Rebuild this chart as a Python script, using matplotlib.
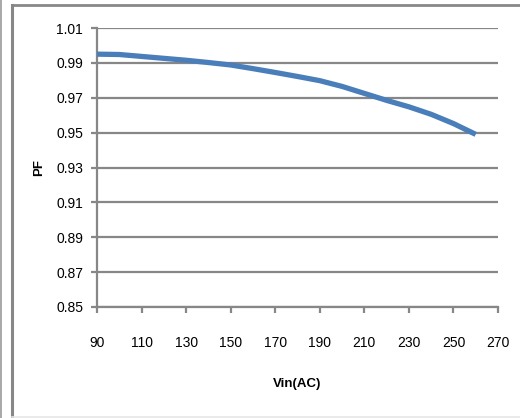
import numpy as np
import matplotlib.pyplot as plt
from matplotlib.lines import Line2D

vin = [90, 100, 110, 120, 130, 140, 150, 160, 170, 180, 190, 200, 210, 220, 230, 240, 250, 260]
pf = [0.995, 0.9948, 0.9937, 0.9926, 0.9915, 0.9902, 0.9888, 0.9867, 0.9845, 0.9822,
      0.9798, 0.9765, 0.9725, 0.9685, 0.9648, 0.9605, 0.9552, 0.949]
xticks = [90, 110, 130, 150, 170, 190, 210, 230, 250, 270]
yticks = [0.85, 0.87, 0.89, 0.91, 0.93, 0.95, 0.97, 0.99, 1.01]

plt.rcParams['font.family'] = ['Liberation Sans', 'DejaVu Sans']

W, H = 520, 418
fig = plt.figure(figsize=(W / 100, H / 100), dpi=100)
ax = fig.add_axes([97 / W, 1 - 307 / H, (498 - 97) / W, (307 - 28) / H])

grey = '#878787'
ax.plot(vin, pf, color='#4a7ebb', lw=3.8, solid_capstyle='butt', zorder=3)

ax.set_xlim(90, 270)
ax.set_ylim(0.85, 1.01)
ax.set_xticks(xticks)
ax.set_yticks(yticks)
ax.set_xticklabels([str(t) for t in xticks])
ax.set_yticklabels(['%.2f' % t for t in yticks])
ax.yaxis.grid(True, color=grey, lw=1.6)
ax.set_axisbelow(True)
for s in ['top', 'right']:
    ax.spines[s].set_visible(False)
for s in ['left', 'bottom']:
    ax.spines[s].set_color(grey)
    ax.spines[s].set_linewidth(1.6)
ax.tick_params(axis='both', colors=grey, width=1.6, length=4, labelcolor='black', labelsize=10)
ax.tick_params(axis='x', pad=17)
ax.tick_params(axis='y', pad=6)

ax.set_xlabel('Vin(AC)', fontsize=9.5, fontweight='bold', labelpad=20)
ax.set_ylabel('PF', fontsize=9.5, fontweight='bold', labelpad=8)

# outer chart frame
def px(x, y):
    return x / W, 1 - y / H

for (x0, y0), (x1, y1), c, w in [
    ((12, 5), (520, 5), grey, 2.0),
    ((12, 5), (12, 418), grey, 2.2),
    ((12, 417), (520, 417), '#e6e6e6', 1.2),
    ((1, 0), (1, 418), '#9a9a9a', 1.2),
]:
    a, b = px(x0, y0)
    c2, d = px(x1, y1)
    fig.add_artist(Line2D([a, c2], [b, d], color=c, lw=w, transform=fig.transFigure))

fig.savefig('out.png', dpi=100)
